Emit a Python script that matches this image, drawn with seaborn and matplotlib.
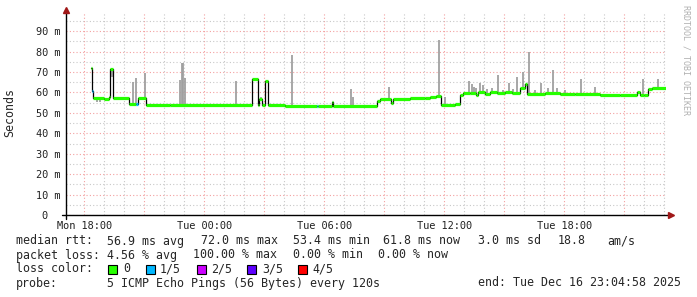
import numpy as np
import pandas as pd
import matplotlib
matplotlib.use("Agg")
import matplotlib.pyplot as plt
import matplotlib.dates as mdates
from matplotlib.ticker import MultipleLocator, FuncFormatter
from matplotlib.patches import Rectangle
import seaborn as sns

# ---------------- data ----------------
DAYS = {"Mon": "2025-12-15 ", "Tue": "2025-12-16 "}

median_times = [
    "Mon 18:20", "Mon 18:23", "Mon 18:26", "Mon 18:59", "Mon 19:14", "Mon 19:17",
    "Mon 19:26", "Mon 20:14", "Mon 20:35", "Mon 20:41", "Mon 21:05", "Mon 22:17",
    "Tue 02:23", "Tue 02:41", "Tue 02:44", "Tue 02:53", "Tue 03:02", "Tue 03:11",
    "Tue 04:02", "Tue 05:38", "Tue 05:41", "Tue 06:23", "Tue 06:26", "Tue 08:38",
    "Tue 08:47", "Tue 09:20", "Tue 09:26", "Tue 10:17", "Tue 11:02", "Tue 11:17",
    "Tue 11:35", "Tue 11:50", "Tue 12:32", "Tue 12:47", "Tue 12:56", "Tue 13:17",
    "Tue 13:35", "Tue 13:41", "Tue 14:02", "Tue 14:17", "Tue 14:38", "Tue 15:02",
    "Tue 15:23", "Tue 15:47", "Tue 16:02", "Tue 16:08", "Tue 17:02", "Tue 17:47",
    "Tue 18:32", "Tue 19:47", "Tue 20:47", "Tue 21:38", "Tue 21:47", "Tue 21:59",
    "Tue 22:11", "Tue 22:23", "Tue 23:05",
]
median_ms = [
    72.0, 60.5, 57.5, 57.0, 58.0, 71.5,
    57.5, 54.3, 54.3, 57.5, 54.0, 53.8,
    66.4, 54.0, 57.0, 54.0, 65.7, 53.7,
    53.4, 53.6, 53.4, 55.5, 53.6, 56.0,
    56.8, 55.0, 57.0, 57.5, 57.3, 58.0,
    58.3, 53.8, 54.5, 58.7, 59.8, 59.5,
    58.6, 60.0, 59.3, 60.0, 59.5, 60.0,
    59.5, 62.0, 64.0, 59.3, 59.5, 59.3,
    59.2, 58.8, 58.7, 60.2, 59.0, 58.8,
    61.5, 62.0, 62.0,
]
median_loss = [
    0, 1, 0, 0, 0, 0,
    0, 0, 1, 0, 0, 0,
    0, 0, 0, 0, 0, 0,
    0, 1, 0, 0, 0, 0,
    0, 0, 0, 0, 0, 0,
    0, 0, 0, 0, 0, 0,
    0, 0, 0, 0, 0, 0,
    0, 0, 0, 0, 0, 0,
    0, 0, 0, 0, 0, 0,
    0, 0, 0,
]

smoke_times = [
    "Mon 18:38", "Mon 18:47", "Mon 19:23", "Mon 20:26", "Mon 20:35", "Mon 21:02",
    "Mon 22:47", "Mon 22:53", "Mon 22:56", "Mon 23:02", "Tue 01:35", "Tue 02:50",
    "Tue 04:23", "Tue 07:20", "Tue 07:26", "Tue 09:14", "Tue 11:44", "Tue 12:02",
    "Tue 13:14", "Tue 13:23", "Tue 13:29", "Tue 13:35", "Tue 13:47", "Tue 13:56",
    "Tue 14:08", "Tue 14:23", "Tue 14:41", "Tue 14:56", "Tue 15:14", "Tue 15:26",
    "Tue 15:38", "Tue 15:56", "Tue 16:14", "Tue 16:32", "Tue 16:50", "Tue 17:11",
    "Tue 17:26", "Tue 17:38", "Tue 18:02", "Tue 18:50", "Tue 19:32", "Tue 21:56",
    "Tue 22:41",
]
smoke_top_ms = [
    55.5, 55.5, 67.5, 65.2, 67.2, 69.5,
    66.0, 74.2, 74.4, 67.0, 65.6, 57.6,
    78.3, 61.6, 58.0, 62.5, 85.6, 58.0,
    65.7, 64.0, 62.5, 62.0, 64.7, 63.6,
    61.5, 62.0, 68.5, 61.0, 64.7, 61.5,
    67.5, 70.0, 79.7, 61.0, 64.7, 62.0,
    71.0, 62.0, 61.0, 66.4, 62.5, 66.5,
    66.5,
]

loss_labels = ["0", "1/5", "2/5", "3/5", "4/5"]
loss_colors = ["#26ff00", "#00b8ff", "#cc00ff", "#5e00ff", "#ff0000"]

y_ticks_ms = [0, 10, 20, 30, 40, 50, 60, 70, 80, 90]

stats_rows = [
    ["median rtt:", "56.9 ms avg", "72.0 ms max", "53.4 ms min", "61.8 ms now",
     "3.0 ms sd", "18.8", "am/s"],
    ["packet loss:", "4.56 % avg", "100.00 % max", "0.00 % min", "0.00 % now"],
]
probe_text = "5 ICMP Echo Pings (56 Bytes) every 120s"
end_text = "end: Tue Dec 16 23:04:58 2025"


def to_ts(s):
    d, t = s.split()
    return pd.Timestamp(DAYS[d] + t)


# ---------------- figure ----------------
W, H = 697, 297
sns.set_style("white")
plt.rcParams["font.family"] = ["DejaVu Sans Mono", "DejaVu Sans"]

fig = plt.figure(figsize=(W / 100, H / 100), dpi=100)
fig.patch.set_facecolor("white")
ax = fig.add_axes([66 / W, (H - 215) / H, 600 / W, 203 / H])
ax.set_facecolor("white")

t0 = pd.Timestamp("2025-12-15 17:05")
t1 = pd.Timestamp("2025-12-16 23:05")
ax.set_xlim(mdates.date2num(t0), mdates.date2num(t1))
ax.set_ylim(0, 99.4)

df = pd.DataFrame({
    "time": [to_ts(s) for s in median_times],
    "ms": median_ms,
    "loss": median_loss,
})
df["x"] = mdates.date2num(df["time"])

# grid
ax.xaxis.set_major_locator(mdates.HourLocator(byhour=range(0, 24, 3)))
ax.xaxis.set_minor_locator(mdates.HourLocator())
ax.yaxis.set_major_locator(MultipleLocator(10))
ax.yaxis.set_minor_locator(MultipleLocator(5))
ax.grid(which="minor", color="#c8c8c8", linestyle=(0, (1, 2)), linewidth=0.8)
ax.grid(which="major", color="#f3a0a0", linestyle=(0, (1, 2)), linewidth=0.8)
ax.set_axisbelow(True)


def xfmt(v, pos):
    d = mdates.num2date(v)
    if d.hour % 6 == 0:
        return d.strftime("%a %H:%M")
    return ""


ax.xaxis.set_major_formatter(FuncFormatter(xfmt))
ax.set_yticks(y_ticks_ms)
ax.yaxis.set_major_formatter(FuncFormatter(lambda v, p: "0  " if v == 0 else f"{v:.0f} m"))
ax.tick_params(axis="both", which="both", length=0, labelsize=7.4, labelcolor="#222222")
ax.tick_params(axis="x", pad=4)
ax.tick_params(axis="y", pad=4)
for sp in ax.spines.values():
    sp.set_visible(False)

# smoke spikes
smoke_x = mdates.date2num([to_ts(s) for s in smoke_times])
idx = np.searchsorted(df["x"].values, smoke_x, side="right") - 1
idx = np.clip(idx, 0, len(df) - 1)
base = df["ms"].values[idx]
ax.vlines(smoke_x, base, smoke_top_ms, color="#a0a0a0", linewidth=1.3, zorder=2)

# median black step line
sns.lineplot(data=df, x="x", y="ms", drawstyle="steps-post", color="black",
             linewidth=0.9, estimator=None, ax=ax, zorder=3, legend=False)

# loss-coloured median segments
xs = df["x"].values
for i in range(len(df) - 1):
    ax.hlines(df["ms"].iloc[i], xs[i], xs[i + 1],
              color=loss_colors[df["loss"].iloc[i]], linewidth=2.3, zorder=4)

ax.set_xlabel("")
ax.set_ylabel("")

# axes lines and arrows
ax.plot([-4 / 600, 604 / 600], [0, 0], transform=ax.transAxes, color="black",
        linewidth=1, clip_on=False, zorder=5)
ax.plot([0, 0], [-4 / 203, 1.0], transform=ax.transAxes, color="black",
        linewidth=1, clip_on=False, zorder=5)
ax.plot([1 + 5 / 600], [0], marker=">", markersize=4, color="#a01818",
        transform=ax.transAxes, clip_on=False, zorder=6)
ax.plot([0], [1 + 2 / 203], marker="^", markersize=4, color="#a01818",
        transform=ax.transAxes, clip_on=False, zorder=6)


# ---------------- texts ----------------
def ftext(x, y, s, **kw):
    fig.text(x / W, 1 - y / H, s, va="center", ha=kw.pop("ha", "left"),
             fontsize=kw.pop("fontsize", 8.4), **kw)


ftext(10, 113, "Seconds", rotation=90, ha="center")
ftext(686, 60, "RRDTOOL / TOBI OETIKER", rotation=270, ha="center",
      fontsize=6.0, color="#b0b0b0")

row_x = [
    [16, 107, 201, 293, 383, 478, 558, 607],
    [16, 107, 193, 293, 378],
]
row_y = [241, 255]
for r, row in enumerate(stats_rows):
    for j, s in enumerate(row):
        ftext(row_x[r][j], row_y[r], s)

ftext(16, 269, "loss color:")
box_x = [108, 146, 197, 247, 298]
lab_x = [123, 160, 211, 262, 312]
for bx, lx, lab, col in zip(box_x, lab_x, loss_labels, loss_colors):
    fig.add_artist(Rectangle((bx / W, 1 - 274 / H), 9 / W, 9 / H,
                             transform=fig.transFigure, facecolor=col,
                             edgecolor="black", linewidth=0.8))
    ftext(lx, 269, lab)

ftext(16, 283, "probe:")
ftext(107, 283, probe_text)
ftext(478, 283, end_text)

fig.savefig("out.png", dpi=100, facecolor="white")
